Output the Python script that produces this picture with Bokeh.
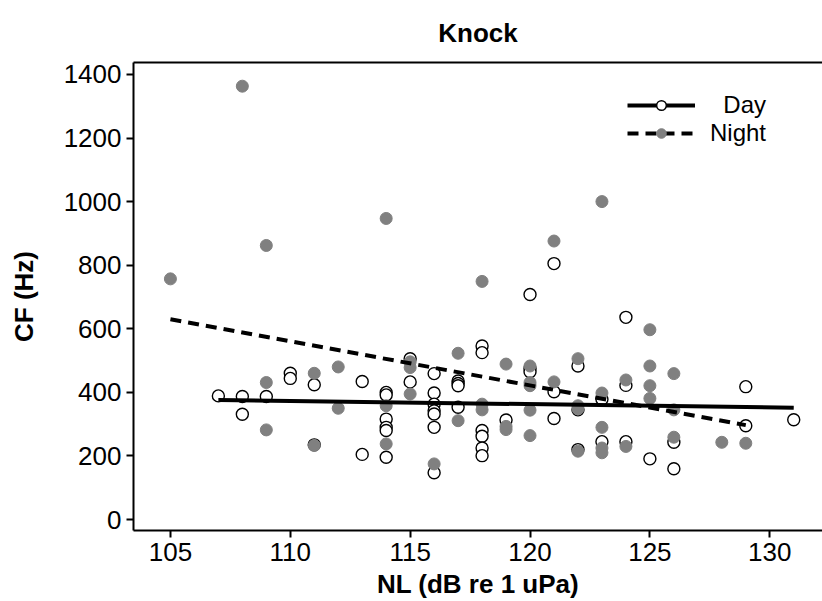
from bokeh.plotting import figure
from bokeh.models import Range1d, LinearAxis, FixedTicker, Legend, LegendItem
from bokeh.embed import file_html
from bokeh.resources import INLINE

# ---- data ----
day_nl = [107, 108, 108, 109, 110, 110, 111, 111, 113, 113,
          114, 114, 114, 114, 114, 114, 115, 115,
          116, 116, 116, 116, 116, 116, 116,
          117, 117, 117, 117,
          118, 118, 118, 118, 118, 118,
          119, 120, 120, 120, 121, 121, 121,
          122, 122, 122, 123, 123, 124, 124, 124,
          125, 126, 126, 129, 129, 131]
day_cf = [389, 387, 331, 387, 460, 444, 424, 235, 434, 205,
          400, 392, 316, 290, 280, 196, 506, 433,
          459, 398, 363, 342, 332, 290, 147,
          436, 428, 421, 353,
          546, 525, 280, 262, 225, 201,
          313, 708, 475, 465, 805, 402, 318,
          483, 345, 220, 378, 245, 636, 422, 245,
          191, 243, 160, 418, 295, 314]

night_nl = [105, 108, 109, 109, 109, 111, 111, 112, 112,
            114, 114, 114, 115, 115, 115, 116, 117, 117,
            118, 118, 118, 119, 119, 119,
            120, 120, 120, 120, 120, 121, 121,
            122, 122, 122, 122, 123, 123, 123, 123, 123,
            124, 124, 125, 125, 125, 125, 126, 126, 126, 128, 129]
night_cf = [757, 1363, 862, 431, 282, 460, 233, 480, 350,
            947, 358, 238, 496, 478, 395, 175, 523, 311,
            749, 363, 345, 489, 293, 283,
            483, 431, 421, 344, 264, 876, 433,
            506, 358, 348, 215, 1000, 398, 290, 225, 210,
            439, 230, 597, 483, 421, 381, 459, 345, 259, 243, 240]

# fitted trend lines (end points)
day_fit_nl = [107, 131]
day_fit_cf = [376, 352]
night_fit_nl = [105, 129]
night_fit_cf = [630, 297]

x_ticks = [105, 110, 115, 120, 125, 130]
y_ticks = [0, 200, 400, 600, 800, 1000, 1200, 1400]

FONT = "Liberation Sans"

p = figure(width=822, height=601, output_backend="svg", toolbar_location=None,
           x_range=Range1d(103.46, 132.2), y_range=Range1d(-34.4, 1437.5),
           min_border_left=133, min_border_right=0, min_border_top=62,
           min_border_bottom=69)
p.background_fill_color = "white"
p.border_fill_color = "white"
p.outline_line_color = None
p.xgrid.visible = False
p.ygrid.visible = False

# title
p.title.text = "Knock"
p.title.align = "center"
p.title.text_font = FONT
p.title.text_font_style = "bold"
p.title.text_font_size = "26px"
p.title.text_color = "black"
p.title.text_line_height = 0.9
p.title.offset = -9
p.title.standoff = 30

# axes
for ax in (p.xaxis[0], p.yaxis[0]):
    ax.axis_line_width = 2
    ax.axis_line_color = "black"
    ax.major_tick_line_width = 2
    ax.major_tick_line_color = "black"
    ax.major_tick_out = 7
    ax.major_tick_in = 0
    ax.minor_tick_line_color = None
    ax.major_label_text_font = FONT
    ax.major_label_text_font_size = "26px"
    ax.major_label_text_color = "black"
    ax.axis_label_text_font = FONT
    ax.axis_label_text_font_style = "bold"
    ax.axis_label_text_font_size = "26px"
    ax.axis_label_text_color = "black"

p.xaxis[0].ticker = FixedTicker(ticks=x_ticks)
p.yaxis[0].ticker = FixedTicker(ticks=y_ticks)
p.xaxis[0].axis_label = "NL (dB re 1 uPa)"
p.yaxis[0].axis_label = "CF (Hz)"
p.xaxis[0].major_label_standoff = 5
p.xaxis[0].axis_label_standoff = 5
p.yaxis[0].major_label_standoff = 5
p.yaxis[0].axis_label_standoff = 22

top_axis = LinearAxis(ticker=FixedTicker(ticks=[]), axis_line_width=2,
                      axis_line_color="black", major_tick_line_color=None,
                      minor_tick_line_color=None, major_label_text_font_size="0px",
                      major_label_standoff=0)
p.add_layout(top_axis, "above")

# points
day_pts = p.scatter(day_nl, day_cf, marker="circle", size=12,
                    fill_color="white", line_color="black", line_width=1.4)
night_pts = p.scatter(night_nl, night_cf, marker="circle", size=12,
                      fill_color="#808080", line_color="#808080", line_width=1)

# trend lines
day_line = p.line(day_fit_nl, day_fit_cf, line_color="black", line_width=4)
night_line = p.line(night_fit_nl, night_fit_cf, line_color="black", line_width=4,
                    line_dash="11 7")

legend = Legend(items=[LegendItem(label="  Day", renderers=[day_line, day_pts]),
                       LegendItem(label="Night", renderers=[night_line, night_pts])],
                location=(494, 383), orientation="vertical")
legend.background_fill_alpha = 0
legend.border_line_color = None
legend.glyph_width = 68
legend.glyph_height = 24
legend.label_height = 24
legend.label_standoff = 15
legend.spacing = 0
legend.padding = 0
legend.margin = 0
legend.label_text_font = FONT
legend.label_text_font_size = "24px"
legend.label_text_color = "black"
p.add_layout(legend, "center")

open("out.html", "w").write(file_html(p, INLINE))
